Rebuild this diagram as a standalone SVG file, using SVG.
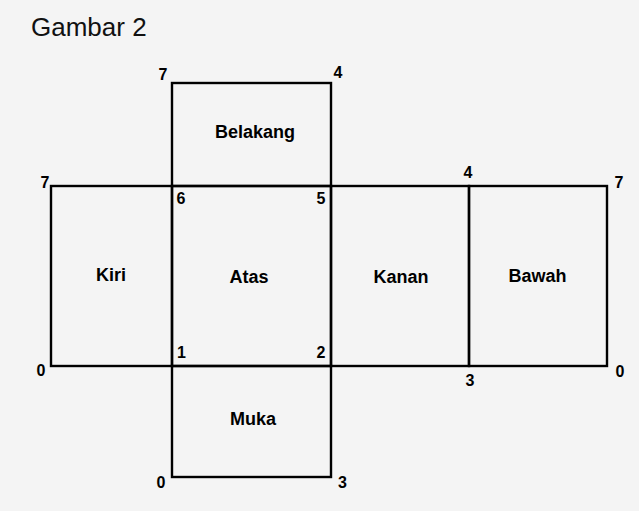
<svg xmlns="http://www.w3.org/2000/svg" width="639" height="511" viewBox="0 0 639 511">
<style>
.face{fill:none;stroke:#000;stroke-width:2.4}
.lbl{font-family:"Liberation Sans",Arial,sans-serif;font-weight:bold;font-size:18px;fill:#000;text-anchor:middle}
.num{font-family:"Liberation Sans",Arial,sans-serif;font-weight:bold;font-size:16px;fill:#000;text-anchor:middle}
.title{font-family:"Liberation Sans",Arial,sans-serif;font-size:26px;fill:#111}
</style>
<rect x="0" y="0" width="639" height="511" fill="#f4f4f4"/>
<text class="title" x="31" y="36">Gambar 2</text>
<g id="belakang">
<rect class="face" x="172" y="83" width="159" height="103"/>
<text class="lbl" x="255" y="138">Belakang</text>
</g>
<g id="kiri">
<rect class="face" x="51" y="186" width="121" height="180"/>
<text class="lbl" x="111" y="281">Kiri</text>
</g>
<g id="atas">
<rect class="face" x="172" y="186" width="159" height="180"/>
<text class="lbl" x="249" y="283">Atas</text>
</g>
<g id="kanan">
<rect class="face" x="331" y="186" width="138" height="180"/>
<text class="lbl" x="401" y="283">Kanan</text>
</g>
<g id="bawah">
<rect class="face" x="469" y="186" width="138" height="180"/>
<text class="lbl" x="537.5" y="282">Bawah</text>
</g>
<g id="muka">
<rect class="face" x="172" y="366" width="159" height="111"/>
<text class="lbl" x="253" y="425">Muka</text>
</g>
<g id="vertices">
<text class="num" x="163" y="80">7</text>
<text class="num" x="338" y="78">4</text>
<text class="num" x="45" y="188">7</text>
<text class="num" x="181" y="204">6</text>
<text class="num" x="321" y="204">5</text>
<text class="num" x="468" y="178">4</text>
<text class="num" x="619" y="188">7</text>
<text class="num" x="181.5" y="358">1</text>
<text class="num" x="321" y="358">2</text>
<text class="num" x="41" y="376">0</text>
<text class="num" x="470" y="386">3</text>
<text class="num" x="620" y="377">0</text>
<text class="num" x="161" y="488">0</text>
<text class="num" x="342.5" y="488">3</text>
</g>
<g id="connectors"></g>
</svg>
